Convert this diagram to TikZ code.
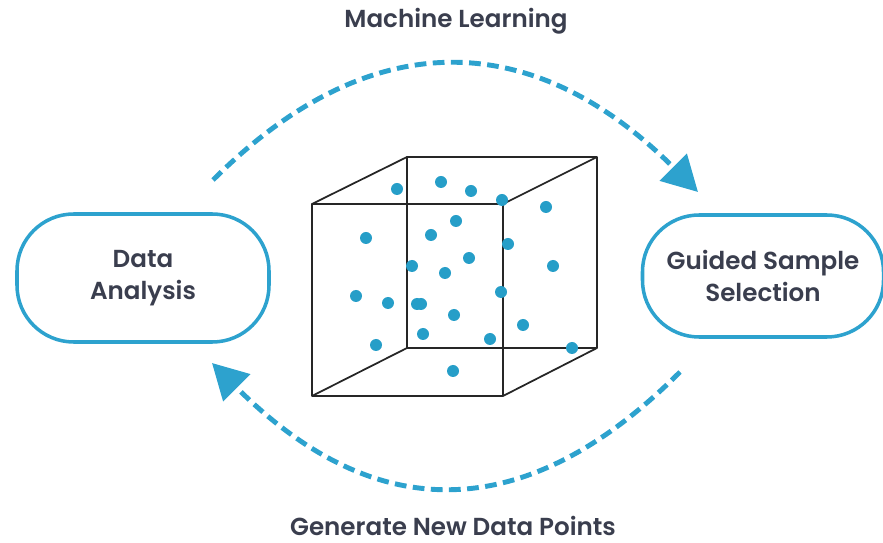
\documentclass[tikz,border=0pt]{standalone}
\usepackage{fontspec}
\setmainfont{Poppins}[BoldFont={Poppins SemiBold}]
\usetikzlibrary{arrows.meta}

\definecolor{loopblue}{RGB}{45,162,206}
\definecolor{dotblue}{RGB}{38,158,200}
\definecolor{labelgray}{RGB}{58,62,78}

\tikzset{
  stagebox/.style={draw=loopblue, line width=3pt, rounded corners=1.7cm, fill=white,
    align=center, text=labelgray, font=\fontsize{21}{27}\selectfont\bfseries},
  looptitle/.style={text=labelgray, inner sep=1pt, font=\fontsize{21}{27}\selectfont\bfseries},
  looparrow/.style={loopblue, line width=4.2pt, dash pattern=on 10pt off 5.5pt,
    -{Triangle[length=30pt,width=32pt]}},
  cubeline/.style={black!85, line width=1.5pt, line join=round},
  sample/.style={dotblue}
}

\begin{document}
\begin{tikzpicture}[x=0.03cm, y=-0.03cm]
    \useasboundingbox (0,0) rectangle (883,543);

    % the two stages
    \node[stagebox, minimum width=7.56cm, minimum height=3.84cm] (analysis) at (143,278) {Data\\Analysis};
    \node[stagebox, minimum width=7.23cm, minimum height=3.66cm] (selection) at (763,276) {Guided Sample\\Selection};

    % titles of the loop
    \node[looptitle] (mltitle) at (456,21) {Machine Learning};
    \node[looptitle] (gentitle) at (453,526) {Generate New Data Points};

    % cube
    \coordinate (fa) at (312,204);
    \coordinate (fb) at (503,204);
    \coordinate (fc) at (503,396);
    \coordinate (fd) at (312,396);
    \coordinate (ba) at (407,157);
    \coordinate (bb) at (597,157);
    \coordinate (bc) at (597,348);
    \coordinate (bd) at (407,348);
    \draw[cubeline] (ba) -- (bb) -- (bc) -- (bd) -- cycle;
    \draw[cubeline] (fa) -- (fb) -- (fc) -- (fd) -- cycle;
    \draw[cubeline] (fa) -- (ba);
    \draw[cubeline] (fb) -- (bb);
    \draw[cubeline] (fc) -- (bc);
    \draw[cubeline] (fd) -- (bd);

    % samples inside the cube
    \foreach \px/\py in {397/189, 441/182, 471/191, 502/200, 546/207, 456/221,
        366/238, 431/235, 508/244, 469/258, 412/266, 445/273, 553/266,
        356/296, 388/303, 417/304, 421/304, 501/292, 454/315, 523/325,
        423/334, 490/339, 376/345, 572/348, 453/371}
        \fill[sample] (\px,\py) circle (6);

    % loop arrows
    \coordinate (mlstart) at (213,180);
    \coordinate (mlend) at (698,192);
    \coordinate (genstart) at (680,372);
    \coordinate (genend) at (212,363);
    \draw[looparrow] (mlstart) .. controls (374,19) and (537,31) .. (mlend);
    \draw[looparrow] (genstart) .. controls (521,531) and (371,522) .. (genend);
\end{tikzpicture}
\end{document}
